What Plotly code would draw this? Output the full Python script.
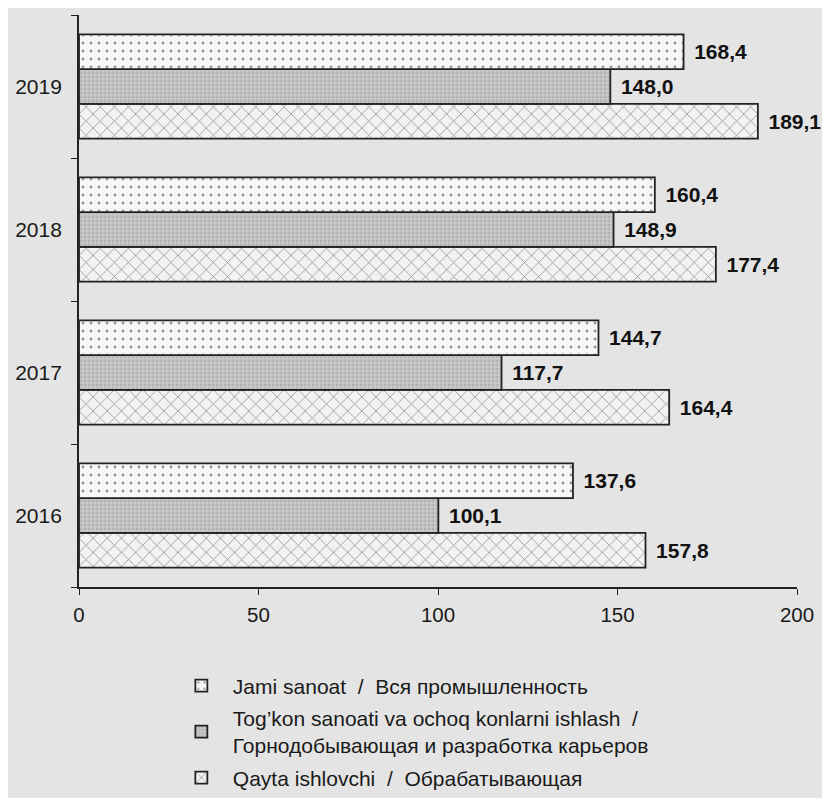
import plotly.graph_objects as go

years = ["2016", "2017", "2018", "2019"]
jami = [137.6, 144.7, 160.4, 168.4]
togkon = [100.1, 117.7, 148.9, 148.0]
qayta = [157.8, 164.4, 177.4, 189.1]
x_ticks = [0, 50, 100, 150, 200]

names = {
    "jami": "Jami sanoat  /  Вся промышленность",
    "togkon": "Tog’kon sanoati va ochoq konlarni ishlash  /<br>Горнодобывающая и разработка карьеров",
    "qayta": "Qayta ishlovchi  /  Обрабатывающая",
}

def fmt(v):
    return "\u00a0\u200a" + f"{v:.1f}".replace(".", ",")

font_family = "Liberation Sans, Arial, sans-serif"
line = dict(color="#222222", width=1.8)

fig = go.Figure()
fig.add_trace(go.Bar(
    y=years, x=qayta, orientation="h", name=names["qayta"],
    text=[fmt(v) for v in qayta], legendrank=3, legendgroup="c",
    marker=dict(color="#f2f2f2", line=line,
                pattern=dict(shape="x", fgcolor="#2a2a2a", bgcolor="#f2f2f2", size=10, solidity=0.15)),
))
fig.add_trace(go.Bar(
    y=years, x=togkon, orientation="h", name=names["togkon"],
    text=[fmt(v) for v in togkon], legendrank=2, legendgroup="b",
    marker=dict(color="#bdbdbd", line=line,
                pattern=dict(shape=".", fgcolor="#9c9c9c", bgcolor="#c8c8c8", size=4, solidity=0.4)),
))
fig.add_trace(go.Bar(
    y=years, x=jami, orientation="h", name=names["jami"],
    text=[fmt(v) for v in jami], legendrank=1, legendgroup="a",
    marker=dict(color="#f4f4f4", line=line,
                pattern=dict(shape=".", fgcolor="#333333", bgcolor="#f6f6f6", size=8, solidity=0.1)),
))

fig.update_traces(textposition="outside", cliponaxis=False,
                  textfont=dict(family=font_family, size=21, color="#111111", weight="bold"))

fig.update_layout(
    width=830, height=798,
    margin=dict(l=71, r=41, t=7, b=219, autoexpand=False),
    paper_bgcolor="#e4e4e4", plot_bgcolor="#e4e4e4",
    barmode="group", bargap=0.27, bargroupgap=0,
    font=dict(family=font_family, size=20, color="#1a1a1a"),
    showlegend=True,
    legend=dict(xref="container", yref="container", x=0.195, y=0.176,
                xanchor="left", yanchor="top", bgcolor="rgba(0,0,0,0)", itemwidth=53,
                font=dict(size=21, color="#1a1a1a"), tracegroupgap=2),
    xaxis=dict(range=[0, 200], tickvals=x_ticks, showgrid=False, zeroline=False,
               showline=True, linecolor="#222222", linewidth=1.8, automargin=False,
               ticks="outside", ticklen=6, tickcolor="#222222", tickwidth=1.4,
               tickfont=dict(size=20.5), ticklabelstandoff=2),
    yaxis=dict(categoryorder="array", categoryarray=years, showgrid=False,
               showline=True, linecolor="#222222", linewidth=1.8, automargin=False,
               ticks="outside", tickson="boundaries", ticklen=6, tickcolor="#222222",
               tickwidth=1.4, tickfont=dict(size=21), ticklabelstandoff=11),
)

fig.write_html("out.html")
